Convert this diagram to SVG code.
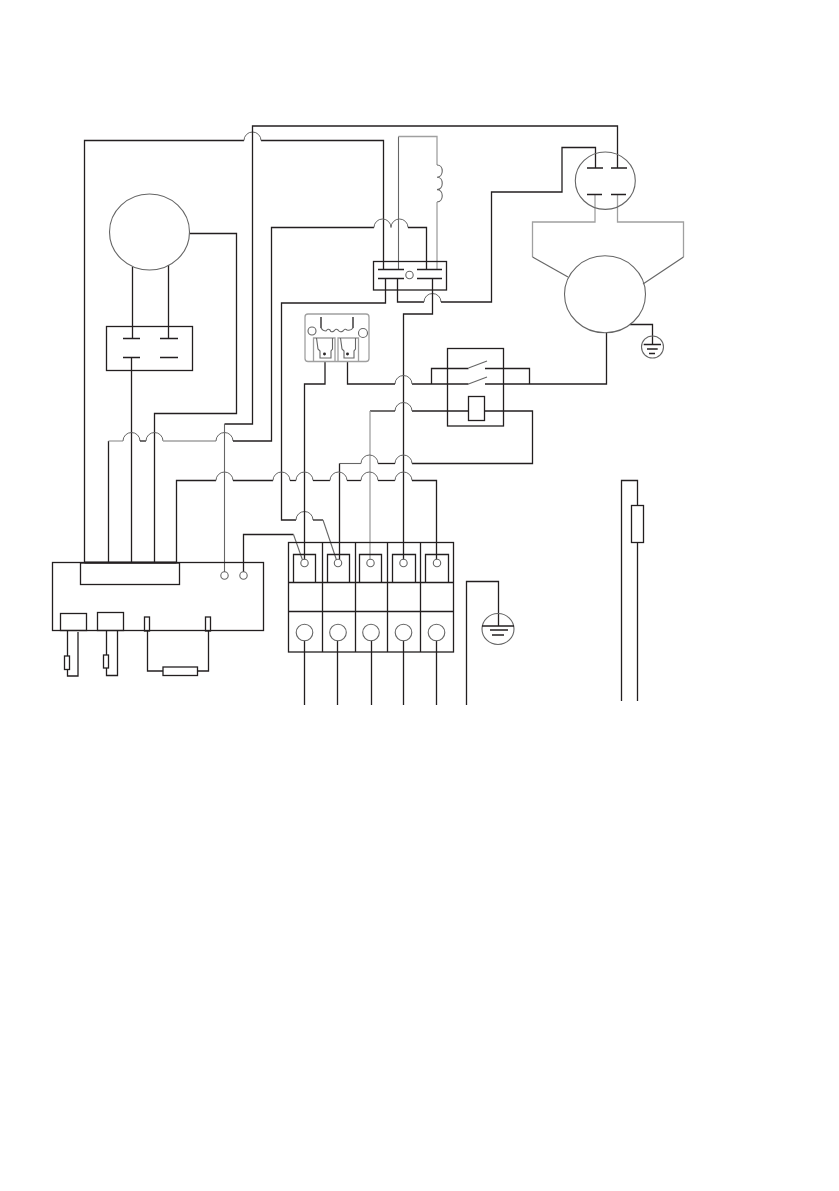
<svg xmlns="http://www.w3.org/2000/svg" width="839" height="1191" viewBox="0 0 839 1191">
<style>
path,rect,circle,ellipse{fill:none;stroke-linejoin:miter}
.k{stroke:#231f20;stroke-width:1.3}
.d{stroke:#666;stroke-width:1.1}
.g{stroke:#a0a0a0;stroke-width:1.3}
.t{stroke:#666;stroke-width:1}
</style>
<g id="connectors">
<path class="k" d="M84.500 562V140.500H244"/>
<path class="k" d="M261 140.500H383.500V269.500"/>
<path class="t" d="M244 140.500a8.500 8.500 0 0 1 17 0"/>
<path class="k" d="M224.500 424H252.500V126H617.500V168"/>
<path class="d" d="M224.500 424V572"/>
<path class="k" d="M189.500 233.500H236.500V413.500H154.500V562"/>
<path class="k" d="M132.500 267V338.500"/>
<path class="k" d="M168.500 265V338.500"/>
<path class="k" d="M131.500 357.500V562"/>
<path class="k" d="M108.500 562V441"/>
<path class="g" d="M108.500 441H123"/>
<path class="t" d="M123 441a8.500 8.500 0 0 1 17 0"/>
<path class="k" d="M140 441H146"/>
<path class="t" d="M146 441a8.500 8.500 0 0 1 17 0"/>
<path class="g" d="M163 441H216"/>
<path class="t" d="M216 441a8.500 8.500 0 0 1 17 0"/>
<path class="k" d="M233 441H271.500V227.500H374"/>
<path class="t" d="M374 227.500a8.500 8.500 0 0 1 17 0a8.500 8.500 0 0 1 17 0"/>
<path class="k" d="M408 227.500H426.500V269.500"/>
<path class="d" d="M398.500 269.500V136.500"/>
<path class="g" d="M398.500 136.500H437V165"/>
<path class="d" d="M437 165c7 0 7 12 0 12.300c7 0 7 12 0 12.300c7 0 7 12 0 12.400"/>
<path class="g" d="M437 202V269.500"/>
<path class="k" d="M385.500 278.500V303H281.500V520H296"/>
<path class="t" d="M296 520a8.500 8.500 0 0 1 17 0"/>
<path class="k" d="M313 520H323"/>
<path class="d" d="M323 520L336.500 560"/>
<path class="k" d="M397.500 278.500V302H424"/>
<path class="t" d="M424 302a8.500 8.500 0 0 1 17 0"/>
<path class="k" d="M441 302H491.500V192H562V147.500H595.500V168"/>
<path class="k" d="M432.500 278.500V314H403.500V559.500"/>
<path class="g" d="M595 194.500V222H532.500V257"/>
<path class="d" d="M532.500 257L568 277"/>
<path class="g" d="M617.500 194.500V222H683.500V257"/>
<path class="d" d="M683.500 257L643 284"/>
<path class="k" d="M630 324.500H652.500V345"/>
<path class="k" d="M606.500 333V384H485"/>
<path class="k" d="M485 368.500H529.500V384"/>
<path class="k" d="M468.500 368.500H431.500V384"/>
<path class="d" d="M468.500 368L487 361"/>
<path class="d" d="M468.500 384L487 377"/>
<path class="k" d="M468.500 384H412"/>
<path class="t" d="M395 384a8.500 8.500 0 0 1 17 0"/>
<path class="k" d="M395 384H347.500V361"/>
<path class="k" d="M325 361V384H304.500V559.500"/>
<path class="k" d="M468.500 411H412"/>
<path class="t" d="M395 411a8.500 8.500 0 0 1 17 0"/>
<path class="k" d="M395 411H370"/>
<path class="g" d="M370 411V559.500"/>
<path class="k" d="M484.500 411H532.500V463.500H412"/>
<path class="t" d="M395 463.500a8.500 8.500 0 0 1 17 0"/>
<path class="k" d="M395 463.500H378"/>
<path class="t" d="M361 463.500a8.500 8.500 0 0 1 17 0"/>
<path class="d" d="M361 463.500H339.500"/>
<path class="k" d="M339.500 463.500V559.500"/>
<path class="k" d="M176.500 562V480.500H216"/>
<path class="t" d="M216 480.500a8.500 8.500 0 0 1 17 0"/>
<path class="k" d="M233 480.500H273"/>
<path class="t" d="M273 480.500a8.500 8.500 0 0 1 17 0"/>
<path class="k" d="M290 480.500H296"/>
<path class="t" d="M296 480.500a8.500 8.500 0 0 1 17 0"/>
<path class="k" d="M313 480.500H330"/>
<path class="t" d="M330 480.500a8.500 8.500 0 0 1 17 0"/>
<path class="k" d="M347 480.500H361"/>
<path class="t" d="M361 480.500a8.500 8.500 0 0 1 17 0"/>
<path class="k" d="M378 480.500H395"/>
<path class="t" d="M395 480.500a8.500 8.500 0 0 1 17 0"/>
<path class="k" d="M412 480.500H436.500V559.500"/>
<path class="k" d="M243.500 572V534.500H293.500"/>
<path class="d" d="M293.500 534.500L302.500 560"/>
<path class="k" d="M304.500 640.800V705M337.500 640.800V705M371.500 640.800V705M403.500 640.800V705M436.500 640.800V705"/>
<path class="k" d="M466.500 705V581.500H498.500V626"/>
<path class="k" d="M621.500 701V480.500H637.500V505.500M637.500 542.500V701"/>
<path class="k" d="M67.500 630.500V656M67.500 669.500V676H78V632"/>
<path class="k" d="M106.500 630.500V655M106.500 668V675.500H117.500V630.500"/>
<path class="k" d="M147.500 631V671H163M197.500 671H208.500V631"/>
</g>
<g id="motor-left"><ellipse class="d" cx="149.500" cy="232" rx="40" ry="38"/></g>
<g id="contactor-left">
<rect class="k" x="106.500" y="326.500" width="86" height="44"/>
<path class="k" d="M123 338.500H140M160 338.500H178M123 357.500H140M160 357.500H178"/>
</g>
<g id="contactor-top">
<rect class="k" x="373.500" y="261.500" width="73" height="28.500"/>
<path class="k" d="M378 269.500H404M417 269.500H442M378 278.500H404M417 278.500H442"/>
<circle class="d" cx="409.500" cy="275" r="3.700"/>
</g>
<g id="capacitor-right">
<ellipse class="d" cx="605.300" cy="180.700" rx="30" ry="28.700"/>
<path class="k" d="M587 168H603M611 168H627M587 194.500H602M611 194.500H626"/>
</g>
<g id="motor-right"><ellipse class="d" cx="605" cy="294.300" rx="40.500" ry="38.500"/></g>
<g id="ground-right">
<circle class="d" cx="652.500" cy="347" r="11"/>
<path class="k" d="M643.700 344.500H661M647 349H657.700M649 353.500H655"/>
</g>
<g id="relay">
<rect class="k" x="447.500" y="348.500" width="56" height="77.500"/>
<rect class="k" x="468.500" y="396.500" width="16" height="24"/>
</g>
<g id="ptc">
<rect class="g" x="305" y="314" width="64" height="47.500" rx="3"/>
<circle class="d" cx="312" cy="331" r="4"/>
<circle class="d" cx="363" cy="333" r="4.500"/>
<path class="k" d="M321 317V328M353 317V328"/>
<path class="d" d="M321 328q2 3 5 3q2 -3 4 -1q1 3 4 1q2 -3 4 -1q2 3 5 1q2 -3 4 -1q4 1 6 -2"/>
<path class="g" d="M313.500 361V338H335V361M338 361V338H358.500V361"/>
<path class="d" d="M316.500 338L318 349L320 351V358H331V351L332.500 349V338"/>
<path class="d" d="M340.500 338L342 349L344 351V358H354V351L355.500 349V338"/>
<circle class="k" cx="324.500" cy="354" r=".8"/>
<circle class="k" cx="347.500" cy="354" r=".8"/>
</g>
<g id="control-box">
<rect class="k" x="52.500" y="562.500" width="211" height="68"/>
<rect class="k" x="80.500" y="563" width="99" height="21.500"/>
<path class="k" d="M84.500 562.500H176.500" style="stroke-width:1.800"/>
<circle class="d" cx="224.500" cy="575.500" r="3.700"/>
<circle class="d" cx="243.500" cy="575.500" r="3.700"/>
<rect class="k" x="60.500" y="613.500" width="26" height="17"/>
<rect class="k" x="97.500" y="612.500" width="26" height="18"/>
<rect class="k" x="144.500" y="617" width="5" height="14"/>
<rect class="k" x="205.500" y="617" width="5" height="14"/>
<rect class="k" x="64.500" y="656" width="5" height="13.500"/>
<rect class="k" x="103.500" y="655" width="5" height="13"/>
<rect class="k" x="163" y="667" width="34.500" height="8.500"/>
</g>
<g id="terminal-block">
<rect class="k" x="288.500" y="542.500" width="165" height="109.500"/>
<path class="k" d="M322.500 542.500V652M355.500 542.500V652M387.500 542.500V652M420.500 542.500V652M288.500 582.500H453.500M288.500 611.500H453.500"/>
<path class="k" d="M293.500 582.500V554.500H315.500V582.500M327.500 582.500V554.500H349.500V582.500M359.500 582.500V554.500H381.500V582.500M392.500 582.500V554.500H415.500V582.500M425.500 582.500V554.500H448.500V582.500"/>
<circle class="d" cx="304.500" cy="563" r="3.700"/><circle class="d" cx="338" cy="563" r="3.700"/><circle class="d" cx="370.500" cy="563" r="3.700"/><circle class="d" cx="403.500" cy="563" r="3.700"/><circle class="d" cx="437" cy="563" r="3.700"/>
<circle class="d" cx="304.500" cy="632.500" r="8.300"/><circle class="d" cx="338" cy="632.500" r="8.300"/><circle class="d" cx="371" cy="632.500" r="8.300"/><circle class="d" cx="403.500" cy="632.500" r="8.300"/><circle class="d" cx="436.500" cy="632.500" r="8.300"/>
</g>
<g id="ground-terminal">
<ellipse class="d" cx="498" cy="629" rx="16" ry="15.500"/>
<path class="k" d="M482 626H514M490 630H508M492 635H504"/>
</g>
<g id="resistor-right"><rect class="k" x="631.500" y="505.500" width="12" height="37"/></g>
</svg>
